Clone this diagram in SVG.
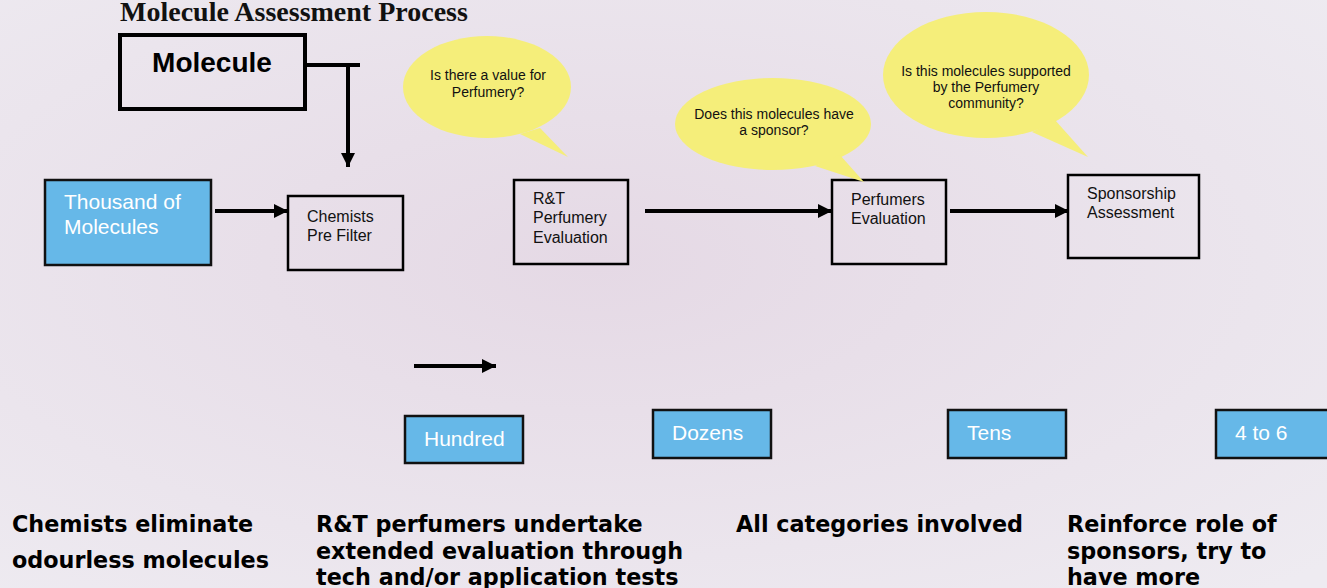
<svg xmlns="http://www.w3.org/2000/svg" width="1327" height="588" viewBox="0 0 1327 588">
<defs>
<radialGradient id="bg" cx="0.45" cy="0.45" r="0.75">
<stop offset="0" stop-color="#e5d9e5"/>
<stop offset="1" stop-color="#eeebf1"/>
</radialGradient>
<marker id="ah" viewBox="0 0 10 10" refX="10" refY="5" markerWidth="3.6" markerHeight="3.6" orient="auto" markerUnits="strokeWidth">
<path d="M0,0 L10,5 L0,10 z" fill="#000"/>
</marker>
<style>
.box{fill:none;stroke:#000;stroke-width:2.5}
.blue{fill:#66b8e8;stroke:#111;stroke-width:2.5}
.t{font-family:"Liberation Sans",Arial,sans-serif;font-size:16px;fill:#111}
.w{font-family:"Liberation Sans",Arial,sans-serif;font-size:21px;fill:#fff}
.bub{fill:#f5ee7a}
.bt{font-family:"Liberation Sans",Arial,sans-serif;font-size:14px;fill:#111;text-anchor:middle}
.note{font-family:"DejaVu Sans",Verdana,sans-serif;font-weight:bold;font-size:22.3px;fill:#000}
.conn{stroke:#000;stroke-width:4;fill:none}
</style>
</defs>
<rect width="1327" height="588" fill="url(#bg)"/>
<text x="120" y="21" font-family="Liberation Serif,Times New Roman,serif" font-weight="bold" font-size="28" fill="#111">Molecule Assessment Process</text>

<g id="molecule">
<rect x="120" y="35" width="185" height="74" fill="none" stroke="#000" stroke-width="4"/>
<text x="212" y="72" text-anchor="middle" font-family="Liberation Sans,Arial,sans-serif" font-weight="bold" font-size="28" fill="#000">Molecule</text>
</g>

<g id="thousand">
<rect class="blue" x="45" y="180" width="166" height="85"/>
<text class="w" x="64" y="209">Thousand of</text>
<text class="w" x="64" y="234">Molecules</text>
</g>
<g id="chemists">
<rect class="box" x="288" y="196" width="115" height="74"/>
<text class="t" x="307" y="222">Chemists</text>
<text class="t" x="307" y="241">Pre Filter</text>
</g>
<g id="rt">
<rect class="box" x="514" y="180" width="114" height="84"/>
<text class="t" x="533" y="204">R&amp;T</text>
<text class="t" x="533" y="223">Perfumery</text>
<text class="t" x="533" y="243">Evaluation</text>
</g>
<g id="perfumers">
<rect class="box" x="832" y="180" width="114" height="84"/>
<text class="t" x="851" y="205">Perfumers</text>
<text class="t" x="851" y="224">Evaluation</text>
</g>
<g id="sponsorship">
<rect class="box" x="1068" y="175" width="131" height="83"/>
<text class="t" x="1087" y="199">Sponsorship</text>
<text class="t" x="1087" y="218">Assessment</text>
</g>

<g id="bubble1">
<ellipse class="bub" cx="487" cy="87" rx="84" ry="51"/>
<path class="bub" d="M540,128 L568,157 L520,134 z"/>
<text class="bt" x="488" y="80">Is there a value for</text>
<text class="bt" x="488" y="97">Perfumery?</text>
</g>
<g id="bubble2">
<ellipse class="bub" cx="773" cy="124" rx="98" ry="46"/>
<path class="bub" d="M840,155 L864,182 L815,166 z"/>
<text class="bt" x="774" y="119">Does this molecules have</text>
<text class="bt" x="774" y="135">a sponsor?</text>
</g>
<g id="bubble3">
<ellipse class="bub" cx="986" cy="75" rx="103" ry="63"/>
<path class="bub" d="M1055,120 L1088,157 L1032,132 z"/>
<text class="bt" x="986" y="76">Is this molecules supported</text>
<text class="bt" x="986" y="92">by the Perfumery</text>
<text class="bt" x="986" y="108">community?</text>
</g>

<g id="hundred">
<rect class="blue" x="405" y="416" width="118" height="47"/>
<text class="w" x="424" y="446" font-size="20">Hundred</text>
</g>
<g id="dozens">
<rect class="blue" x="653" y="410" width="118" height="48"/>
<text class="w" x="672" y="440" font-size="20">Dozens</text>
</g>
<g id="tens">
<rect class="blue" x="948" y="410" width="118" height="48"/>
<text class="w" x="967" y="440" font-size="20">Tens</text>
</g>
<g id="four-to-six">
<rect class="blue" x="1216" y="410" width="118" height="48"/>
<text class="w" x="1235" y="440" font-size="20">4 to 6</text>
</g>

<g id="connectors">
<path class="conn" d="M305,65 H360"/>
<path class="conn" d="M348,65 V167" marker-end="url(#ah)"/>
<path class="conn" d="M215,211 H288" marker-end="url(#ah)"/>
<path class="conn" d="M645,211 H832" marker-end="url(#ah)"/>
<path class="conn" d="M950,211 H1069" marker-end="url(#ah)"/>
<path class="conn" d="M414,366 H496" stroke-width="3.5" marker-end="url(#ah)"/>
</g>

<g id="notes">
<text class="note" x="12" y="532">Chemists eliminate</text>
<text class="note" x="12" y="568">odourless molecules</text>
<text class="note" x="316" y="532">R&amp;T perfumers undertake</text>
<text class="note" x="316" y="559">extended evaluation through</text>
<text class="note" x="316" y="585">tech and/or application tests</text>
<text class="note" x="736" y="532">All categories involved</text>
<text class="note" x="1067" y="532">Reinforce role of</text>
<text class="note" x="1067" y="559">sponsors, try to</text>
<text class="note" x="1067" y="585">have more</text>
</g>
</svg>
